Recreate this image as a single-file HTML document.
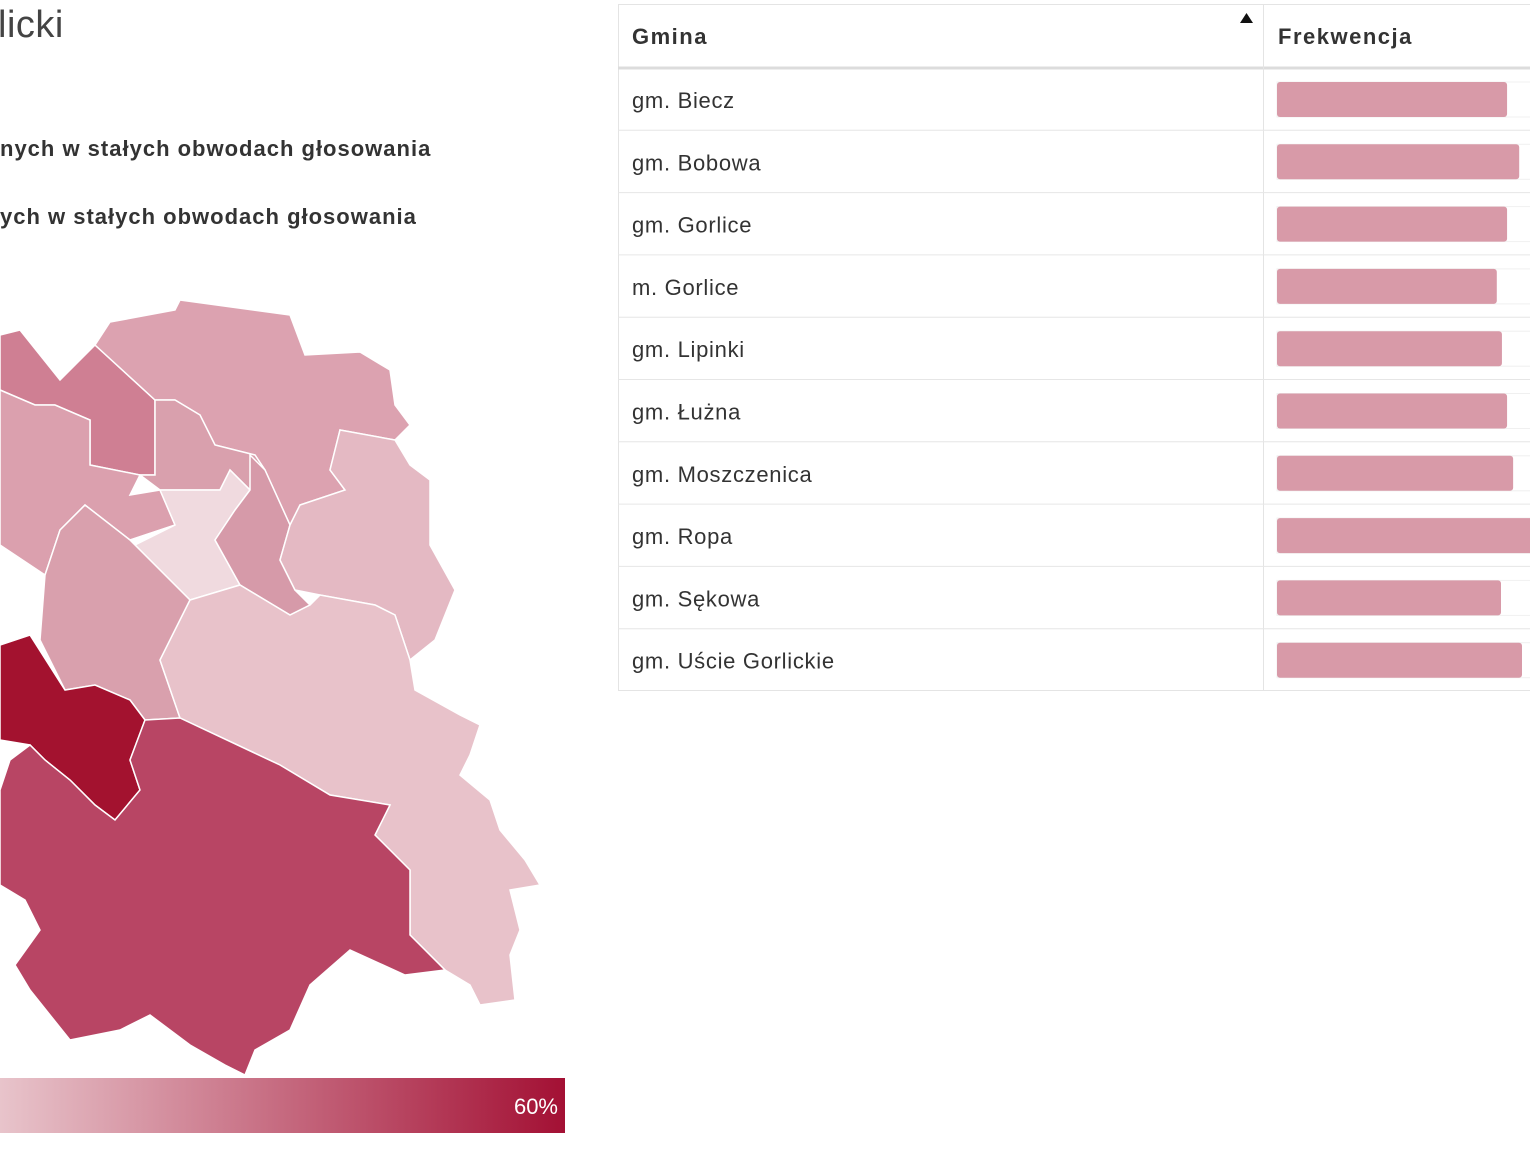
<!DOCTYPE html>
<html><head><meta charset="utf-8">
<style>
body{margin:0;width:1530px;height:1151px;overflow:hidden;background:#fff;font-family:"Liberation Sans","DejaVu Sans",sans-serif;color:#333;position:relative}
.t{position:absolute;white-space:nowrap}
</style></head><body>
<div class="t" style="left:-2px;top:4px;font-size:38px;color:#444;letter-spacing:0.5px">licki</div>
<div class="t" style="left:0;top:136px;font-size:22px;font-weight:bold;color:#333;letter-spacing:1px">nych w stałych obwodach głosowania</div>
<div class="t" style="left:0;top:204px;font-size:22px;font-weight:bold;color:#333;letter-spacing:1px">ych w stałych obwodach głosowania</div>

<svg width="600" height="1151" style="position:absolute;left:0;top:0">
<g stroke="#fff" stroke-width="1.5">
<polygon fill="#cf7f93" points="0,335 20,330 60,380 95,345 155,400 155,475 140,475 90,465 90,420 55,405 35,405 0,390"/>
<polygon fill="#dca2b0" points="95,345 110,322 175,310 180,300 290,315 305,355 360,352 390,370 395,405 410,425 395,440 340,430 330,470 345,490 300,505 290,525 265,470 255,455 215,445 200,415 175,400 155,400"/>
<polygon fill="#dba0ae" points="0,390 35,405 55,405 90,420 90,465 140,475 130,495 160,490 175,525 130,540 85,505 60,530 45,575 0,545"/>
<polygon fill="#d9a0ad" points="155,400 175,400 200,415 215,445 255,455 265,470 250,490 230,470 220,490 160,490 140,475 155,475"/>
<polygon fill="#f0dadf" points="160,490 220,490 230,470 250,490 235,510 215,540 240,585 190,600 135,545 175,525"/>
<polygon fill="#d69aa9" points="250,455 265,470 290,525 280,560 295,590 310,605 290,615 265,600 240,585 215,540 235,510 250,490"/>
<polygon fill="#e4b9c3" points="340,430 395,440 410,465 430,480 430,545 455,590 435,640 410,660 395,615 375,605 320,595 295,590 280,560 290,525 300,505 345,490 330,470"/>
<polygon fill="#d9a0ad" points="60,530 85,505 130,540 135,545 190,600 160,660 180,718 145,720 130,700 95,685 65,690 40,640 45,575"/>
<polygon fill="#e8c2ca" points="190,600 240,585 265,600 290,615 310,605 320,595 375,605 395,615 410,660 415,690 460,715 480,725 470,755 460,775 490,800 500,830 525,860 540,885 510,890 520,930 510,955 515,1000 480,1005 470,985 445,970 410,935 410,870 375,835 390,805 330,795 280,765 180,718 160,660"/>
<polygon fill="#a3122f" points="0,645 30,635 65,690 95,685 130,700 145,720 130,760 140,790 115,820 95,805 70,780 45,760 30,745 0,740"/>
<polygon fill="#b84564" points="145,720 180,718 280,765 330,795 390,805 375,835 410,870 410,935 445,970 405,975 350,950 310,985 290,1030 255,1050 245,1075 225,1065 190,1045 150,1015 120,1030 70,1040 30,990 15,965 40,930 25,900 0,885 0,790 10,760 30,745 45,760 70,780 95,805 115,820 140,790 130,760"/>
</g>
<defs><linearGradient id="g" x1="0" x2="1"><stop offset="0" stop-color="#e8c4cb"/><stop offset="1" stop-color="#a31034"/></linearGradient></defs>
<rect x="0" y="1078" width="565" height="55" fill="url(#g)"/>
<text x="558" y="1114" text-anchor="end" font-size="22" fill="#fff" font-family="Liberation Sans, sans-serif">60%</text>
</svg>

<svg id="tbl" width="912" height="700" style="position:absolute;left:618px;top:0"></svg>
<script>
const gminy=["gm. Biecz","gm. Bobowa","gm. Gorlice","m. Gorlice","gm. Lipinki","gm. Łużna","gm. Moszczenica","gm. Ropa","gm. Sękowa","gm. Uście Gorlickie"];
const turnout=[49.3,51.9,49.3,47.1,48.2,49.3,50.6,55.5,48.0,52.5];
const maxTurnout=60;
const NS="http://www.w3.org/2000/svg";
const svg=document.getElementById('tbl');
const barX=659, barMaxW=280, headerH=68, rowH=62.3;
function xw(v){return v/maxTurnout*barMaxW;}
function mk(t,a){const e=document.createElementNS(NS,t);for(const k in a)e.setAttribute(k,a[k]);svg.appendChild(e);return e;}
let r=mk('rect',{x:0.5,y:4.5,width:920,height:686,fill:'#fff',stroke:'#e4e4e4'});


let hl=mk('line',{x1:0,x2:912,y1:68,y2:68,stroke:'#dcdcdc','stroke-width':3});


let vl=mk('line',{x1:645.5,x2:645.5,y1:5,y2:691,stroke:'#e4e4e4'});


let h1=mk('text',{x:14,y:44,'font-size':22,'font-weight':'bold',fill:'#333','letter-spacing':1.5});h1.textContent='Gmina';


let h2=mk('text',{x:660,y:44,'font-size':22,'font-weight':'bold',fill:'#333','letter-spacing':1.5});h2.textContent='Frekwencja';


let ar=mk('polygon',{points:'622,23 635,23 628.5,13',fill:'#111'});


gminy.forEach((g,i)=>{
  const y=headerH+i*rowH;
  if(i>0){const l=mk('line',{x1:0,x2:912,y1:y,y2:y,stroke:'#e6e6e6'});
    
    }
  const t=mk('text',{x:14,y:y+40,'font-size':22,fill:'#333','letter-spacing':0.7});t.textContent=g;
  
  
  const tr=mk('rect',{x:barX,y:y+14,width:barMaxW,height:35,fill:'#fff',stroke:'#f0f0f0'});
  
  
  const b=mk('rect',{x:barX,y:y+14,width:xw(turnout[i]),height:35,rx:3,fill:'#d89aa8'});
  
  
});
</script>
</body></html>
